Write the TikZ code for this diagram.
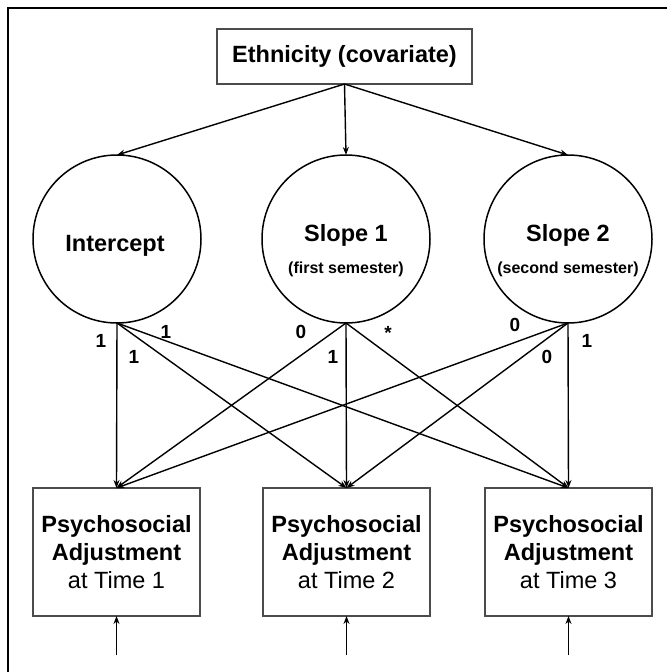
\documentclass[tikz,border=0pt]{standalone}
\usepackage{fontspec}
\setmainfont{Liberation Sans}
\usetikzlibrary{arrows.meta}
\begin{document}
\begin{tikzpicture}[x=1pt,y=-1pt,
  every node/.style={inner sep=0pt, outer sep=0pt},
  obsbox/.style={draw=black!70, line width=1.7pt, minimum width=167pt, minimum height=128pt, align=center, font=\fontsize{23.5}{28}\selectfont},
  topbox/.style={draw=black!70, line width=1.7pt, minimum width=255pt, minimum height=55pt, font=\fontsize{23.5}{28}\selectfont\bfseries},
  latent/.style={draw, line width=1.5pt, circle, minimum size=168pt},
  bigtxt/.style={anchor=base, font=\fontsize{23.5}{28}\selectfont\bfseries},
  smalltxt/.style={anchor=base, font=\fontsize{16}{18}\selectfont\bfseries},
  arr/.style={line width=1.4pt, -{Stealth[length=8pt,width=6pt]}},
  lbl/.style={font=\fontsize{19}{19}\selectfont\bfseries}]
\useasboundingbox (0,0) rectangle (667,672);
% frame
\draw[line width=2.8pt] (8,672) -- (8,8) -- (667,8);
% covariate
\node[topbox] (eth) at (344.5,56.5) {Ethnicity (covariate)};
% latent factors
\node[latent] (int) at (117,239) {};
\node[latent] (s1) at (346,239) {};
\node[latent] (s2) at (568,239) {};
\node[bigtxt] (tint) at (115,251) {Intercept};
\node[bigtxt] (ts1) at (346,241) {Slope 1};
\node[smalltxt] (ts1b) at (346,273) {(first semester)};
\node[bigtxt] (ts2) at (568,241) {Slope 2};
\node[smalltxt] (ts2b) at (568,273) {(second semester)};
% observed
\node[obsbox] (y1) at (116.5,552) {\textbf{Psychosocial}\\\textbf{Adjustment}\\at Time 1};
\node[obsbox] (y2) at (346.5,552) {\textbf{Psychosocial}\\\textbf{Adjustment}\\at Time 2};
\node[obsbox] (y3) at (568.5,552) {\textbf{Psychosocial}\\\textbf{Adjustment}\\at Time 3};
% covariate arrows
\draw[arr] (eth.south) -- (int.north);
\draw[arr] (eth.south) -- (s1.north);
\draw[arr] (eth.south) -- (s2.north);
% loadings
\draw[arr] (int.south) -- (y1.north);
\draw[arr] (int.south) -- (y2.north);
\draw[arr] (int.south) -- (y3.north);
\draw[arr] (s1.south) -- (y1.north);
\draw[arr] (s1.south) -- (y2.north);
\draw[arr] (s1.south) -- (y3.north);
\draw[arr] (s2.south) -- (y1.north);
\draw[arr] (s2.south) -- (y2.north);
\draw[arr] (s2.south) -- (y3.north);
% residual arrows
\coordinate (e1) at (116.5,655);
\coordinate (e2) at (346.5,655);
\coordinate (e3) at (568.5,655);
\draw[arr] (e1) -- (y1.south);
\draw[arr] (e2) -- (y2.south);
\draw[arr] (e3) -- (y3.south);
% loading labels
\node[lbl] (l1) at (101,341) {1};
\node[lbl] (l2) at (166,332) {1};
\node[lbl] (l3) at (134,357) {1};
\node[lbl] (l4) at (301,332) {0};
\node[lbl] (l5) at (333,357) {1};
\node[lbl] (l6) at (388,333) {*};
\node[lbl] (l7) at (515,325) {0};
\node[lbl] (l8) at (547,357) {0};
\node[lbl] (l9) at (587,341) {1};
\end{tikzpicture}
\end{document}
